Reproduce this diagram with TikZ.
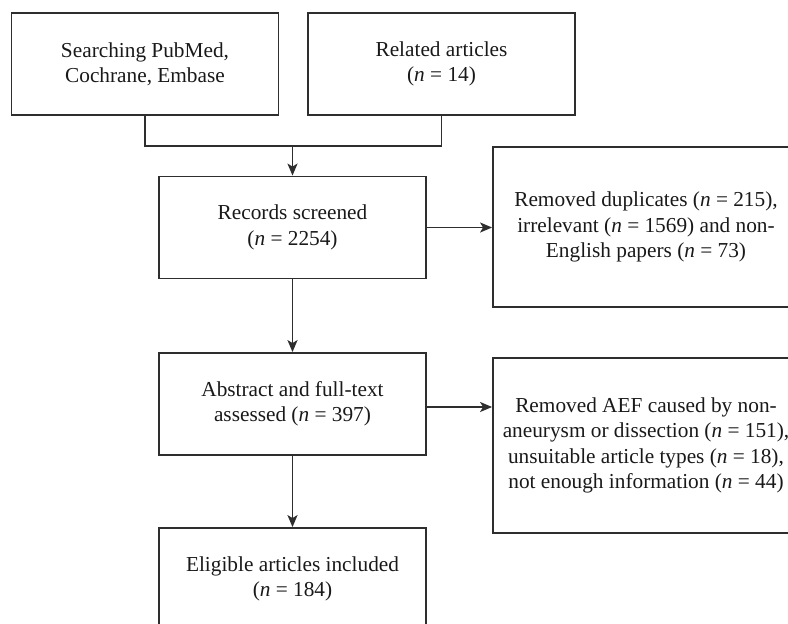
\documentclass[tikz,border=0pt]{standalone}
\usepackage{fontspec}
\setmainfont{Liberation Serif}
\usetikzlibrary{arrows.meta}
\definecolor{ln}{HTML}{2E2E2E}
\tikzset{
  box/.style={draw=ln, line width=1.8pt, inner sep=0pt, align=center, text=black!90,
    font=\fontsize{21.3pt}{25.5pt}\selectfont},
  leftbox/.style={box, minimum width=267pt, minimum height=102pt},
  arr/.style={draw=ln, line width=1.8pt, -{Stealth[length=12pt,width=10pt,inset=3pt]}},
  con/.style={draw=ln, line width=1.8pt}
}
\begin{document}
\begin{tikzpicture}[x=1pt,y=-1pt]
\useasboundingbox (0,0) rectangle (788,624);
\clip (0,0) rectangle (788,624);
\node[leftbox] (b1) at (145,64) {Searching PubMed,\\Cochrane, Embase};
\node[leftbox] (b2) at (441.5,64) {Related articles\\(\textit{n} = 14)};
\node[leftbox] (rec) at (292.5,227.5) {Records screened\\(\textit{n} = 2254)};
\node[leftbox] (abs) at (292.5,404) {Abstract and full-text\\assessed (\textit{n} = 397)};
\node[leftbox] (inc) at (292.5,579) {Eligible articles included\\(\textit{n} = 184)};
\node[box, minimum width=306pt, minimum height=160pt] (r1) at (646,227)
  {Removed duplicates (\textit{n} = 215),\\irrelevant (\textit{n} = 1569) and non-\\English papers (\textit{n} = 73)};
\node[box, minimum width=306pt, minimum height=175pt] (r2) at (646,445.5)
  {Removed AEF caused by non-\\aneurysm or dissection (\textit{n} = 151),\\unsuitable article types (\textit{n} = 18),\\not enough information (\textit{n} = 44)};
\coordinate (m) at (292.5,146);
\draw[con] (b1.south) |- (m) -| (b2.south);
\draw[arr] (m) -- (rec.north);
\draw[arr] (rec.east) -- (rec.east -| r1.west);
\draw[arr] (rec.south) -- (abs.north);
\draw[arr] ([yshift=-3pt]abs.east) -- ([yshift=-3pt]abs.east -| r2.west);
\draw[arr] (abs.south) -- (inc.north);
\end{tikzpicture}
\end{document}
